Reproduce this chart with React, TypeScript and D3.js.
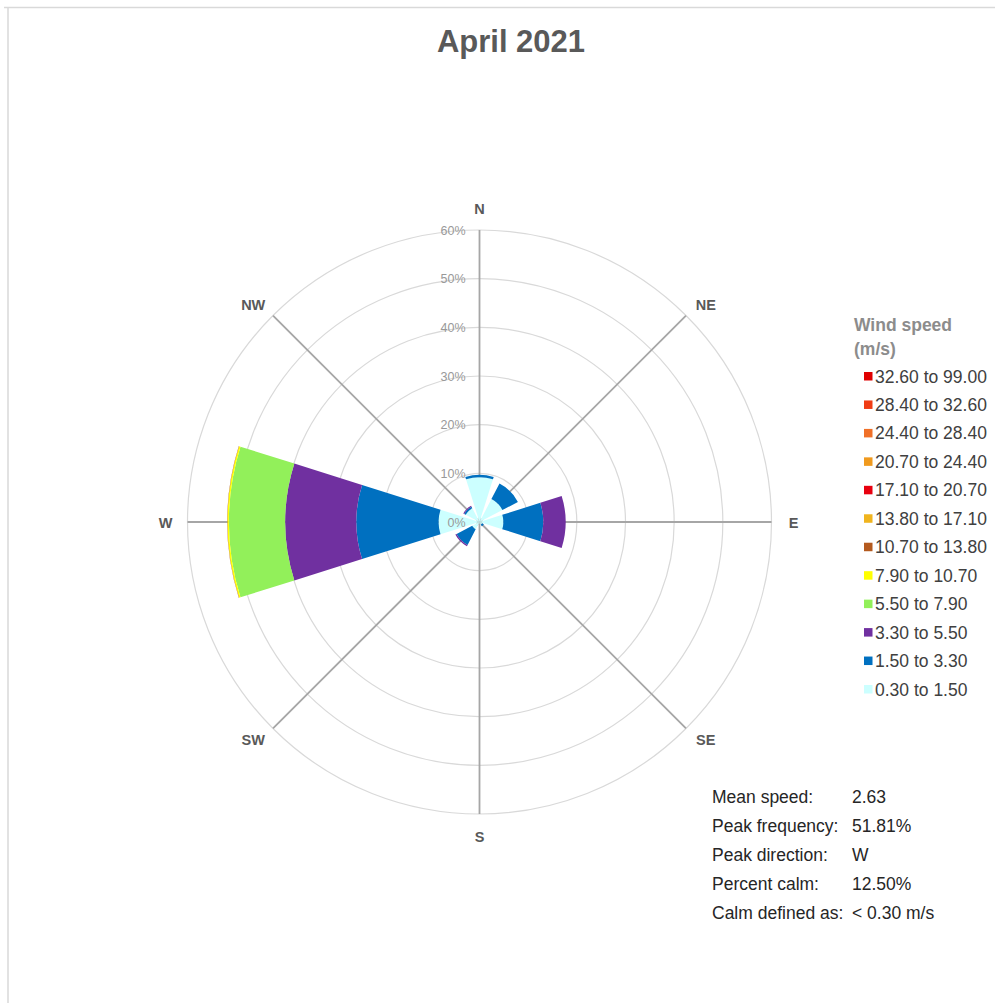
import React from "react";
import * as d3 from "d3";

// compass directions, clockwise from north
const directions = ["N", "NE", "E", "SE", "S", "SW", "W", "NW"];

// speed bins, lowest first (stacked from the centre outward)
const speedBins = [
  "0.30 to 1.50",
  "1.50 to 3.30",
  "3.30 to 5.50",
  "5.50 to 7.90",
  "7.90 to 10.70",
  "10.70 to 13.80",
  "13.80 to 17.10",
  "17.10 to 20.70",
  "20.70 to 24.40",
  "24.40 to 28.40",
  "28.40 to 32.60",
  "32.60 to 99.00",
];
const binColors = [
  "#ccffff",
  "#0070c0",
  "#7030a0",
  "#92f05a",
  "#ffff00",
  "#b45a1e",
  "#f0b41e",
  "#e8000f",
  "#f09a1e",
  "#f07028",
  "#f03c14",
  "#e00000",
];

// frequency (%) per direction, one array per speed bin
const bin0315 = [9.2, 5.3, 4.9, 0.6, 0.3, 1.7, 8.4, 3.2];
const bin1533 = [0.5, 3.6, 8.2, 0.4, 0, 3.6, 16.9, 0.35];
const bin3355 = [0, 0, 4.6, 0, 0, 0.3, 14.6, 0.2];
const bin5579 = [0, 0, 0, 0, 0, 0, 11.6, 0];
const bin7910 = [0, 0, 0, 0, 0, 0, 0.3, 0];
const bin1013 = [0, 0, 0, 0, 0, 0, 0.06, 0];
const bin1317 = [0, 0, 0, 0, 0, 0, 0, 0];
const bin1720 = [0, 0, 0, 0, 0, 0, 0, 0];
const bin2024 = [0, 0, 0, 0, 0, 0, 0, 0];
const bin2428 = [0, 0, 0, 0, 0, 0, 0, 0];
const bin2832 = [0, 0, 0, 0, 0, 0, 0, 0];
const bin3299 = [0, 0, 0, 0, 0, 0, 0, 0];
const binValues = [
  bin0315, bin1533, bin3355, bin5579, bin7910, bin1013,
  bin1317, bin1720, bin2024, bin2428, bin2832, bin3299,
];

const radialTicks = [0, 10, 20, 30, 40, 50, 60];

const statLabels = ["Mean speed:", "Peak frequency:", "Peak direction:", "Percent calm:", "Calm defined as:"];
const statValues = ["2.63", "51.81%", "W", "12.50%", "< 0.30 m/s"];

const FONT = "'Liberation Sans', Arial, sans-serif";

const App = () => {
  const W = 995;
  const H = 1003;
  const cx = 479.5;
  const cy = 522;
  const rMax = 292;

  const r = d3.scaleLinear().domain([0, 60]).range([0, rMax]);
  const angle = d3
    .scalePoint<string>()
    .domain(directions)
    .range([0, (Math.PI * 2 * 7) / 8]);
  const half = (17.5 * Math.PI) / 180;

  // stack bins per direction
  const rows = directions.map((d, i) => {
    const row: any = { dir: d };
    speedBins.forEach((b, j) => (row[b] = binValues[j][i]));
    return row;
  });
  const series = d3.stack<any>().keys(speedBins)(rows);

  const arc = d3.arc<any>();

  const legendY = d3.scaleLinear().domain([0, 11]).range([376, 689]);
  const statY = d3.scaleLinear().domain([0, 4]).range([796, 912]);

  return (
    <svg
      width={W}
      height={H}
      style={{ position: "absolute", left: 0, top: 0, background: "#fff" }}
      fontFamily={FONT}
    >
      {/* frame */}
      <line x1={4} x2={W} y1={7.5} y2={7.5} stroke="#d9d9d9" strokeWidth={1.5} />
      <line x1={8} x2={8} y1={7.5} y2={H} stroke="#d9d9d9" strokeWidth={1.5} />

      <text x={511} y={52} textAnchor="middle" fontSize={31} fontWeight="bold" fill="#595959">
        April 2021
      </text>

      <g transform={`translate(${cx},${cy})`}>
        {radialTicks.slice(1).map((t) => (
          <circle key={t} r={r(t)} fill="none" stroke="#d9d9d9" strokeWidth={1.2} />
        ))}
        {directions.map((d) => {
          const a = angle(d)!;
          return (
            <line
              key={d}
              x1={0}
              y1={0}
              x2={Math.sin(a) * rMax}
              y2={-Math.cos(a) * rMax}
              stroke="#a6a6a6"
              strokeWidth={1.8}
            />
          );
        })}
        {series.map((s, j) => (
          <g key={s.key} fill={binColors[j]}>
            {s.map((p, i) => {
              if (p[1] - p[0] <= 0) return null;
              const a = angle(directions[i])!;
              return (
                <path
                  key={i}
                  d={
                    arc({
                      innerRadius: r(p[0]),
                      outerRadius: r(p[1]),
                      startAngle: a - half,
                      endAngle: a + half,
                    }) || ""
                  }
                />
              );
            })}
          </g>
        ))}
        {radialTicks.map((t) => (
          <text
            key={t}
            x={-14}
            y={-r(t) + 4.5}
            textAnchor="end"
            fontSize={12.5}
            fill="#999999"
          >
            {t}%
          </text>
        ))}
        {directions.map((d) => {
          const a = angle(d)!;
          const diag = Math.abs(Math.sin(2 * a));
          const lx = 314 + 6 * diag;
          const ly = 314 - 7 * diag;
          return (
            <text
              key={d}
              x={Math.sin(a) * lx}
              y={-Math.cos(a) * ly + 5.5}
              textAnchor="middle"
              fontSize={14.5}
              fontWeight="bold"
              fill="#595959"
            >
              {d}
            </text>
          );
        })}
      </g>

      {/* legend */}
      <text x={854} y={331} fontSize={17.5} fontWeight="bold" fill="#8c8c8c">
        Wind speed
      </text>
      <text x={854} y={355} fontSize={17.5} fontWeight="bold" fill="#8c8c8c">
        (m/s)
      </text>
      {speedBins
        .slice()
        .reverse()
        .map((b, k) => {
          const j = speedBins.length - 1 - k;
          const y = legendY(k);
          return (
            <g key={b}>
              <rect x={864} y={y - 4} width={8.5} height={8.5} fill={binColors[j]} />
              <text x={875} y={y + 6.5} fontSize={17.5} fill="#404040">
                {b}
              </text>
            </g>
          );
        })}

      {/* stats */}
      {statLabels.map((l, i) => (
        <g key={l}>
          <text x={712} y={statY(i) + 6.5} fontSize={17.5} fill="#262626">
            {l}
          </text>
          <text x={852} y={statY(i) + 6.5} fontSize={17.5} fill="#262626">
            {statValues[i]}
          </text>
        </g>
      ))}
    </svg>
  );
};

export default App;
